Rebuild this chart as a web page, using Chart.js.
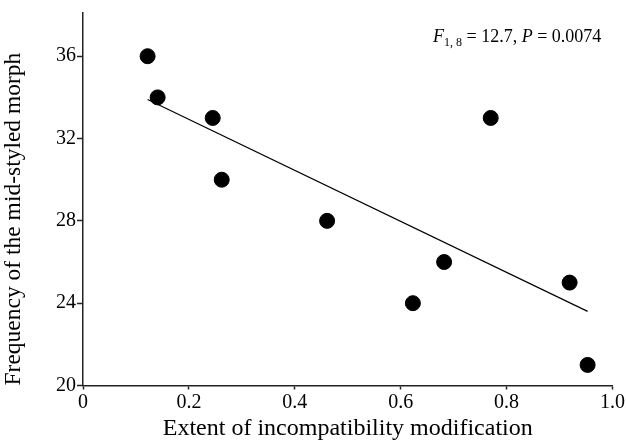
<!DOCTYPE html>
<html>
<head>
<meta charset="utf-8">
<script src="https://cdn.jsdelivr.net/npm/chart.js@4"></script>
<style>
  html, body { margin: 0; padding: 0; background: #fff; }
  #wrap { width: 626px; height: 443px; }
</style>
</head>
<body>
<div id="wrap"><canvas id="chart" width="626" height="443"></canvas></div>
<script>
// extent of incompatibility modification vs. mid-styled morph frequency
const extent = [0.122, 0.141, 0.245, 0.262, 0.461, 0.623, 0.682, 0.770, 0.919, 0.953];
const midFreq = [36, 34, 33, 30, 28, 24, 26, 33, 25, 21];

// fitted regression line (end points)
const fitX = [0.122, 0.953];
const fitY = [33.9, 23.6];

const yTicks = [20, 24, 28, 32, 36];
const xTicks = [0, 0.2, 0.4, 0.6, 0.8, 1.0];

const FONT = "'Liberation Serif', 'Times New Roman', serif";

// F and P statistics in the top-right corner
const statsLabel = {
  id: "statsLabel",
  afterDraw(chart) {
    const ctx = chart.ctx;
    let x = 433, y = 42;
    ctx.save();
    ctx.fillStyle = "#000";
    ctx.textBaseline = "alphabetic";
    const part = (txt, style, size, dy) => {
      ctx.font = style + " " + size + "px " + FONT;
      ctx.fillText(txt, x, y + dy);
      x += ctx.measureText(txt).width;
    };
    part("F", "italic", 18, 0);
    part("1, 8", "normal", 12, 4);
    part(" = 12.7, ", "normal", 18, 0);
    part("P", "italic", 18, 0);
    part(" = 0.0074", "normal", 18, 0);
    ctx.restore();
  }
};

new Chart(document.getElementById("chart"), {
  type: "scatter",
  data: {
    datasets: [
      {
        label: "Populations",
        data: extent.map((v, i) => ({ x: v, y: midFreq[i] })),
        backgroundColor: "#000",
        borderColor: "#000",
        pointRadius: 7.5,
        pointHoverRadius: 7.5,
      },
      {
        type: "line",
        label: "Fit",
        data: fitX.map((v, i) => ({ x: v, y: fitY[i] })),
        borderColor: "#000",
        borderWidth: 1.2,
        pointRadius: 0,
        fill: false,
      },
    ],
  },
  options: {
    responsive: false,
    animation: false,
    layout: { padding: { top: 13, right: 12, left: 0, bottom: 0 } },
    plugins: { legend: { display: false }, tooltip: { enabled: false } },
    scales: {
      x: {
        type: "linear",
        min: 0,
        max: 1.0,
        afterBuildTicks: (s) => { s.ticks = xTicks.map((v) => ({ value: v })); },
        afterFit: (s) => { s.height = 57.5; },
        grid: { drawOnChartArea: false, tickLength: 4, color: "#222", tickWidth: 1.5 },
        border: { color: "#222", width: 1.5 },
        ticks: {
          color: "#000",
          padding: 1,
          font: { family: FONT, size: 20 },
          callback: (v) => (v === 0 ? "0" : v.toFixed(1)),
        },
        title: {
          display: true,
          text: "Extent of incompatibility modification",
          color: "#000",
          font: { family: FONT, size: 24 },
          padding: { top: 0, bottom: 0 },
        },
      },
      y: {
        type: "linear",
        min: 20,
        max: 38.1,
        afterBuildTicks: (s) => { s.ticks = yTicks.map((v) => ({ value: v })); },
        afterFit: (s) => { s.width = 83; },
        grid: { drawOnChartArea: false, tickLength: 6, color: "#222", tickWidth: 1.5 },
        border: { color: "#222", width: 1.5 },
        ticks: {
          color: "#000",
          padding: 1,
          font: { family: FONT, size: 20 },
        },
        title: {
          display: true,
          text: "Frequency of the mid-styled morph",
          align: "start",
          color: "#000",
          font: { family: FONT, size: 23.5 },
          padding: { top: 0, bottom: 0 },
        },
      },
    },
  },
  plugins: [statsLabel],
});
</script>
</body>
</html>
